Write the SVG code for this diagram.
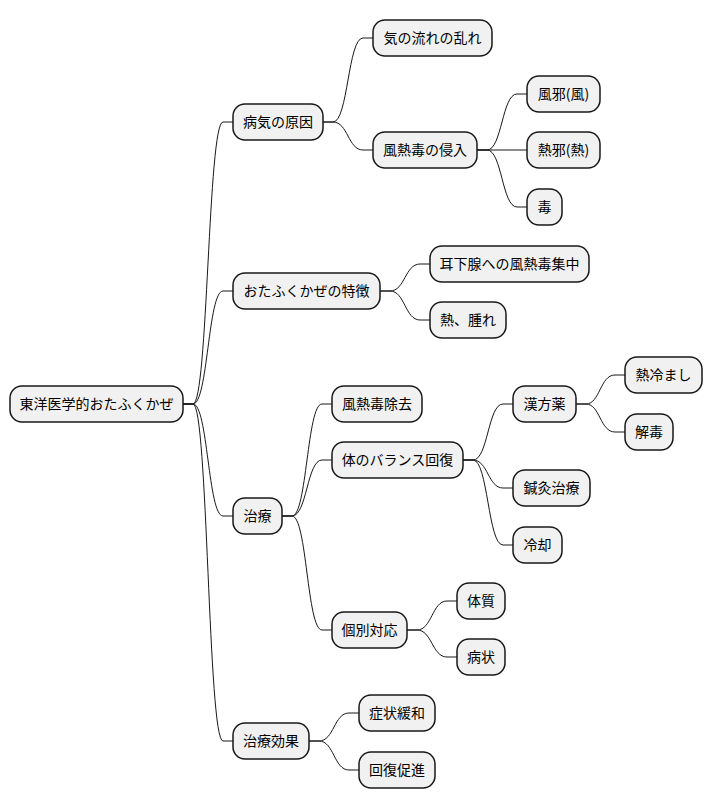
<svg xmlns="http://www.w3.org/2000/svg" width="712" height="809" viewBox="0 0 712 809">
<style>
.n rect{fill:#f1f1f1;stroke:#181818;stroke-width:1.5}
.n text{font-family:"Noto Sans CJK JP","Noto Sans",sans-serif;font-size:14px;fill:#000;text-anchor:middle}
#edges path{fill:none;stroke:#181818;stroke-width:1}
</style>
<rect width="712" height="809" fill="#fff"/>
<g id="edges">
<path d="M183 404 L193 404 C208 404 208 122 223 122 L233 122"/>
<path d="M183 404 L193 404 C208 404 208 291 223 291 L233 291"/>
<path d="M183 404 L193 404 C208 404 208 516 223 516 L233 516"/>
<path d="M183 404 L193 404 C208 404 208 741 223 741 L233 741"/>
<path d="M323 122 L333 122 C348 122 348 38 363 38 L373 38"/>
<path d="M323 122 L333 122 C348 122 348 150 363 150 L373 150"/>
<path d="M477 150 L487 150 C502 150 502 94 517 94 L527 94"/>
<path d="M477 150 L527 150"/>
<path d="M477 150 L487 150 C502 150 502 207 517 207 L527 207"/>
<path d="M380 291 L390 291 C405 291 405 264 420 264 L430 264"/>
<path d="M380 291 L390 291 C405 291 405 320 420 320 L430 320"/>
<path d="M282 516 L292 516 C307 516 307 404 322 404 L332 404"/>
<path d="M282 516 L292 516 C307 516 307 460 322 460 L332 460"/>
<path d="M282 516 L292 516 C307 516 307 630 322 630 L332 630"/>
<path d="M463 460 L473 460 C488 460 488 404 503 404 L513 404"/>
<path d="M463 460 L473 460 C488 460 488 488 503 488 L513 488"/>
<path d="M463 460 L473 460 C488 460 488 545 503 545 L513 545"/>
<path d="M576 404 L586 404 C600 404 600 375 615 375 L625 375"/>
<path d="M576 404 L586 404 C600 404 600 432 615 432 L625 432"/>
<path d="M407 630 L417 630 C432 630 432 601 447 601 L457 601"/>
<path d="M407 630 L417 630 C432 630 432 657 447 657 L457 657"/>
<path d="M309 741 L319 741 C334 741 334 713 349 713 L359 713"/>
<path d="M309 741 L319 741 C334 741 334 770 349 770 L359 770"/>
</g>
<g id="root" class="n"><rect x="10" y="386" width="173" height="36" rx="12"/><text x="96.5" y="409">東洋医学的おたふくかぜ</text></g>
<g id="n1" class="n"><rect x="233" y="104" width="90" height="36" rx="12"/><text x="278" y="127">病気の原因</text></g>
<g id="n1a" class="n"><rect x="373" y="20" width="119" height="36" rx="12"/><text x="432.5" y="43">気の流れの乱れ</text></g>
<g id="n1b" class="n"><rect x="373" y="132" width="104" height="36" rx="12"/><text x="425" y="155">風熱毒の侵入</text></g>
<g id="n1b1" class="n"><rect x="527" y="76" width="73" height="36" rx="12"/><text x="563.5" y="99">風邪(風)</text></g>
<g id="n1b2" class="n"><rect x="527" y="132" width="73" height="36" rx="12"/><text x="563.5" y="155">熱邪(熱)</text></g>
<g id="n1b3" class="n"><rect x="527" y="189" width="35" height="36" rx="12"/><text x="544.5" y="212">毒</text></g>
<g id="n2" class="n"><rect x="233" y="273" width="147" height="36" rx="12"/><text x="306.5" y="296">おたふくかぜの特徴</text></g>
<g id="n2a" class="n"><rect x="430" y="246" width="159" height="36" rx="12"/><text x="509.5" y="269">耳下腺への風熱毒集中</text></g>
<g id="n2b" class="n"><rect x="430" y="302" width="76" height="36" rx="12"/><text x="468" y="325">熱、腫れ</text></g>
<g id="n3" class="n"><rect x="233" y="498" width="49" height="36" rx="12"/><text x="257.5" y="521">治療</text></g>
<g id="n3a" class="n"><rect x="332" y="386" width="90" height="36" rx="12"/><text x="377" y="409">風熱毒除去</text></g>
<g id="n3b" class="n"><rect x="332" y="442" width="131" height="36" rx="12"/><text x="397.5" y="465">体のバランス回復</text></g>
<g id="n3b1" class="n"><rect x="513" y="386" width="63" height="36" rx="12"/><text x="544.5" y="409">漢方薬</text></g>
<g id="n3b1a" class="n"><rect x="625" y="357" width="77" height="36" rx="12"/><text x="663.5" y="380">熱冷まし</text></g>
<g id="n3b1b" class="n"><rect x="625" y="414" width="48" height="36" rx="12"/><text x="649" y="437">解毒</text></g>
<g id="n3b2" class="n"><rect x="513" y="470" width="77" height="36" rx="12"/><text x="551.5" y="493">鍼灸治療</text></g>
<g id="n3b3" class="n"><rect x="513" y="527" width="49" height="36" rx="12"/><text x="537.5" y="550">冷却</text></g>
<g id="n3c" class="n"><rect x="332" y="612" width="75" height="36" rx="12"/><text x="369.5" y="635">個別対応</text></g>
<g id="n3c1" class="n"><rect x="457" y="583" width="48" height="36" rx="12"/><text x="481" y="606">体質</text></g>
<g id="n3c2" class="n"><rect x="457" y="639" width="48" height="36" rx="12"/><text x="481" y="662">病状</text></g>
<g id="n4" class="n"><rect x="233" y="723" width="76" height="36" rx="12"/><text x="271" y="746">治療効果</text></g>
<g id="n4a" class="n"><rect x="359" y="695" width="76" height="36" rx="12"/><text x="397" y="718">症状緩和</text></g>
<g id="n4b" class="n"><rect x="359" y="752" width="76" height="36" rx="12"/><text x="397" y="775">回復促進</text></g>
</svg>
